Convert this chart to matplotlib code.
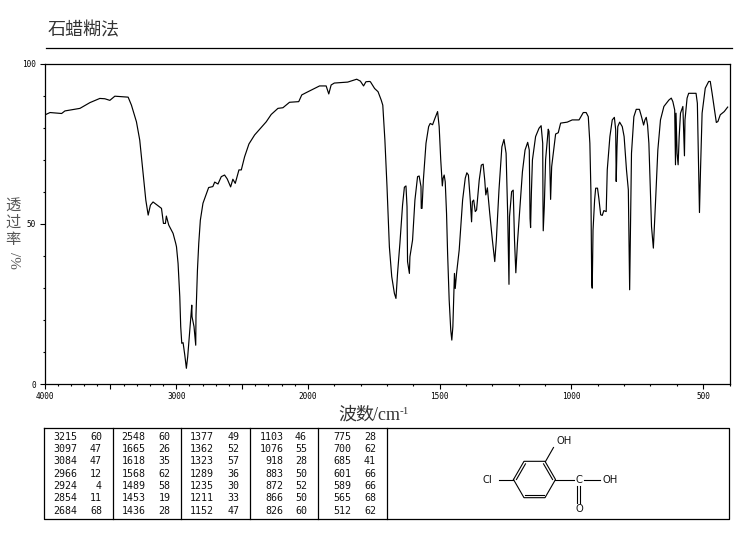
# -*- coding: utf-8 -*-
# IR spectrum, paraffin mull, with peak table and structure
import numpy as np
import matplotlib
matplotlib.use('Agg')
import matplotlib.pyplot as plt

# spectrum
wavenumber = [4000, 3958, 3870, 3845, 3731, 3655, 3580, 3542, 3504, 3466, 3365, 3340, 3302, 3277,
              3251, 3231, 3213, 3196, 3176, 3112, 3097, 3082, 3075, 3057, 3024, 3004,
              2998, 2986, 2973, 2966, 2958, 2948, 2935, 2923, 2913, 2903, 2890, 2882, 2880,
              2865, 2852, 2850, 2839, 2829, 2817, 2797, 2754, 2722, 2708, 2683, 2658, 2633,
              2613, 2587, 2570, 2552, 2524, 2506, 2481, 2448, 2405, 2317, 2279, 2228, 2190,
              2140, 2070, 2047, 2014, 1975, 1956, 1931, 1921, 1912, 1900, 1849, 1815, 1801,
              1789, 1780, 1767, 1763, 1747, 1734, 1722, 1716, 1708, 1700, 1691, 1682, 1672,
              1666, 1660, 1651, 1641, 1634, 1628, 1624, 1622, 1615, 1613, 1603, 1594, 1584,
              1578, 1571, 1570, 1567, 1562, 1552, 1542, 1536, 1527, 1518, 1508, 1502, 1496,
              1490, 1487, 1483, 1479, 1474, 1470, 1464, 1458, 1454, 1450, 1444, 1441, 1436,
              1426, 1413, 1403, 1397, 1391, 1384, 1379, 1376, 1371, 1365, 1360, 1350, 1342,
              1335, 1329, 1325, 1319, 1310, 1300, 1291, 1285, 1275, 1264, 1256, 1248, 1242,
              1237, 1235, 1227, 1221, 1216, 1211, 1205, 1186, 1176, 1166, 1160, 1157, 1155,
              1152, 1148, 1136, 1123, 1115, 1109, 1108, 1107, 1103, 1098, 1088, 1085, 1082,
              1079, 1075, 1066, 1060, 1050, 1041, 1016, 997, 971, 955, 944, 936, 930, 926,
              923, 921, 918, 912, 908, 901, 896, 889, 883, 877, 868, 864, 854, 845, 837, 832,
              830, 827, 824, 817, 807, 800, 791, 784, 782, 779, 776, 772, 763, 754, 742, 734,
              726, 721, 716, 711, 706, 702, 696, 689, 681, 672, 662, 649, 630, 621, 615, 608,
              605, 603, 599, 595, 591, 586, 577, 574, 571, 569, 561, 555, 527, 522, 517, 514,
              510, 504, 492, 479, 473, 466, 450, 444, 435, 420, 407]
transmittance = [83.9, 84.7, 84.4, 85.2, 86.0, 87.8, 89.1, 89.0, 88.5, 89.8, 89.5, 87.0, 81.8, 76.1,
                 65.7, 57.4, 52.7, 55.8, 56.8, 54.8, 50.1, 50.1, 52.4, 49.6, 47.0, 43.9,
                 42.8, 37.6, 27.2, 17.9, 12.7, 12.9, 9.0, 4.9, 8.5, 13.7, 20.5, 24.6, 21.0,
                 17.9, 12.1, 21.5, 35.5, 43.9, 51.1, 56.4, 61.3, 61.6, 63.0, 62.4, 64.7, 65.2,
                 64.0, 61.5, 63.9, 62.6, 66.8, 66.8, 70.9, 74.9, 77.7, 81.8, 84.1, 86.0, 86.2,
                 87.9, 88.1, 90.2, 90.9, 92.2, 93.0, 93.0, 90.5, 93.3, 93.9, 94.2, 95.1, 94.5,
                 93.0, 94.3, 94.4, 94.3, 92.2, 91.2, 88.6, 87.0, 76.1, 61.6, 42.8, 33.5, 28.3,
                 26.7, 34.5, 43.9, 55.8, 61.4, 61.8, 55.3, 38.2, 34.5, 39.7, 44.9, 57.4, 64.7,
                 64.9, 61.6, 54.8, 54.8, 63.6, 75.1, 80.3, 81.3, 80.9, 82.9, 85.0, 80.3, 69.9,
                 61.8, 64.2, 65.2, 63.1, 53.2, 40.8, 26.2, 16.8, 13.7, 17.9, 34.5, 29.8, 34.5,
                 41.8, 57.4, 64.2, 65.9, 65.2, 57.4, 50.6, 56.9, 57.4, 53.8, 54.3, 63.6, 68.3,
                 68.6, 63.6, 59.0, 61.2, 53.2, 44.9, 38.2, 44.9, 60.5, 74.0, 76.3, 72.0, 53.2,
                 31.1, 52.2, 60.0, 60.5, 44.9, 34.7, 43.9, 66.2, 73.0, 75.4, 73.0, 51.7, 48.8,
                 59.5, 69.9, 77.2, 79.8, 80.6, 75.1, 57.4, 47.8, 55.3, 70.0, 79.5, 78.8, 67.8,
                 57.6, 67.8, 74.0, 78.0, 78.4, 81.4, 81.7, 82.4, 82.4, 84.7, 84.7, 83.4, 75.1, 60.0,
                 31.4, 29.9, 48.0, 57.4, 61.1, 61.1, 58.0, 52.8, 52.6, 54.1, 53.8, 66.8, 77.2, 82.4, 83.2, 79.3,
                 63.2, 73.9, 80.3, 81.7, 80.3, 77.2, 66.8, 60.6, 48.1, 29.4, 48.0, 72.0, 83.4, 85.7, 85.7, 83.4,
                 80.8, 82.4, 83.2, 80.8, 75.1, 64.7, 49.1, 42.4, 56.4, 73.0, 82.4, 86.6, 88.6, 89.2, 88.1, 85.5,
                 68.4, 84.5, 72.0, 68.4, 77.2, 84.5, 86.6, 79.3, 71.2, 82.4, 89.2, 90.7, 90.7, 87.6, 66.8, 53.5,
                 66.8, 84.5, 92.3, 94.4, 94.4, 90.7, 81.6, 81.9, 84.0, 85.0, 86.4]

# peak table, one list per column
peaks_wn_1 = ['3215', '3097', '3084', '2966', '2924', '2854', '2684']
peaks_t_1 = ['60', '47', '47', '12', '4', '11', '68']
peaks_wn_2 = ['2548', '1665', '1618', '1568', '1489', '1453', '1436']
peaks_t_2 = ['60', '26', '35', '62', '58', '19', '28']
peaks_wn_3 = ['1377', '1362', '1323', '1289', '1235', '1211', '1152']
peaks_t_3 = ['49', '52', '57', '36', '30', '33', '47']
peaks_wn_4 = ['1103', '1076', '918', '883', '872', '866', '826']
peaks_t_4 = ['46', '55', '28', '50', '52', '50', '60']
peaks_wn_5 = ['775', '700', '685', '601', '589', '565', '512']
peaks_t_5 = ['28', '62', '41', '66', '66', '68', '62']

x_major = [4000, 3500, 3000, 2500, 2000, 1500, 1000, 500]
x_labels = ['4000', '', '3000', '', '2000', '1500', '1000', '500']
y_major = [0, 50, 100]
y_labels = ['0', '50', '100']

CJK = ['Liberation Serif', 'Noto Sans CJK SC']
MONO = 'DejaVu Sans Mono'
GREY = '#555555'


# the axis is compressed 2:1 above 2000 cm-1
def forward(w):
    w = np.asarray(w, dtype=float)
    return np.where(w >= 2000, w, 2000 + (w - 2000) * 2)


def inverse(v):
    v = np.asarray(v, dtype=float)
    return np.where(v >= 2000, v, 2000 + (v - 2000) / 2)


fig = plt.figure(figsize=(7.37, 5.39), dpi=100)

# overlay in pixels for rule, table and structure
pg = fig.add_axes([0, 0, 1, 1])
pg.set_xlim(0, 737)
pg.set_ylim(539, 0)
pg.axis('off')

ax = fig.add_axes([44.5 / 737, (539 - 384) / 539, 685 / 737, 320.5 / 539])
ax.set_xscale('function', functions=(forward, inverse))
ax.plot(wavenumber, transmittance, color='black', lw=0.85)
ax.set_xlim(4000, 400)
ax.set_ylim(0, 100)
ax.set_xticks(x_major)
ax.set_xticklabels(x_labels, family=MONO, fontsize=5.6)
ax.set_xticks(np.arange(400, 4000, 100), minor=True)
ax.set_yticks(y_major)
ax.set_yticklabels(y_labels, family=MONO, fontsize=5.6)
ax.set_yticks(np.arange(0, 101, 10), minor=True)
ax.tick_params(axis='both', which='major', length=3.6, width=0.8, pad=2.5)
ax.tick_params(axis='both', which='minor', length=1.5, width=0.8)
for s in ax.spines.values():
    s.set_linewidth(0.9)

pg.text(48, 30.5, '石蜡糊法', family=CJK, fontsize=13, color='#333333', va='center', ha='left')
pg.plot([46, 732], [47.5, 47.5], color='black', lw=0.9)

for ch, yy in zip('透过率', [206, 223, 240]):
    pg.text(13, yy, ch, family=CJK, fontsize=11, color=GREY, ha='center', va='center')
pg.text(13, 260, '/%', family='Liberation Serif', fontsize=11, color=GREY, rotation=-90,
        ha='center', va='center')

pg.text(338, 415, '波数', family=CJK, fontsize=13, color='#333333', ha='left', va='center')
pg.text(373, 415, '/cm', family='Liberation Serif', fontsize=13, color='#333333', ha='left', va='center')
pg.text(400, 411, '-1', family='Liberation Serif', fontsize=8, color='#333333', ha='left', va='center')

# peak table
pg.plot([44.5, 729.5, 729.5, 44.5, 44.5], [427.5, 427.5, 519, 519, 427.5], color='black', lw=0.9)
for xd in [113.5, 181.5, 250.5, 318.5, 387.5]:
    pg.plot([xd, xd], [427.5, 519], color='black', lw=0.9)

columns = [(77.5, peaks_wn_1), (102, peaks_t_1), (145.5, peaks_wn_2), (170.5, peaks_t_2),
           (214, peaks_wn_3), (239.5, peaks_t_3), (283.5, peaks_wn_4), (307, peaks_t_4),
           (351, peaks_wn_5), (376, peaks_t_5)]
for xr, col in columns:
    for i, val in enumerate(col):
        pg.text(xr, 436.7 + 12.33 * i, val, family=MONO, fontsize=7.2, ha='right', va='center',
                color='#111111')

# structure of 4-chlorosalicylic acid
cx, cy = 534.5, 479.5
r = 21
ang = np.radians([180, 120, 60, 0, -60, -120])
rx = cx + r * np.cos(ang)
ry = cy - r * np.sin(ang)
pg.plot(np.r_[rx, rx[0]], np.r_[ry, ry[0]], color='black', lw=0.8)
for a, b in [(0, 1), (2, 3), (4, 5)]:
    ix = cx + (rx[[a, b]] - cx) * 0.86
    iy = cy + (ry[[a, b]] - cy) * 0.86
    pg.plot(ix, iy, color='black', lw=0.8)
bonds = [([499.5, 513.5], [480, 480]),
         ([545.5, 553.5], [461.5, 447.5]),
         ([555, 574], [480, 480]),
         ([584, 600], [480, 480]),
         ([577.5, 577.5], [486, 503]),
         ([580, 580], [486, 503])]
for bx, by in bonds:
    pg.plot(bx, by, color='black', lw=0.8)
for tx, ty, s in [(487.5, 480, 'Cl'), (564.5, 440.5, 'OH'), (579, 480, 'C'), (610.5, 480, 'OH'), (579, 508.5, 'O')]:
    pg.text(tx, ty, s, family='DejaVu Sans', fontsize=7.2, ha='center', va='center', color='#111111')

fig.savefig('out.png', dpi=100)
